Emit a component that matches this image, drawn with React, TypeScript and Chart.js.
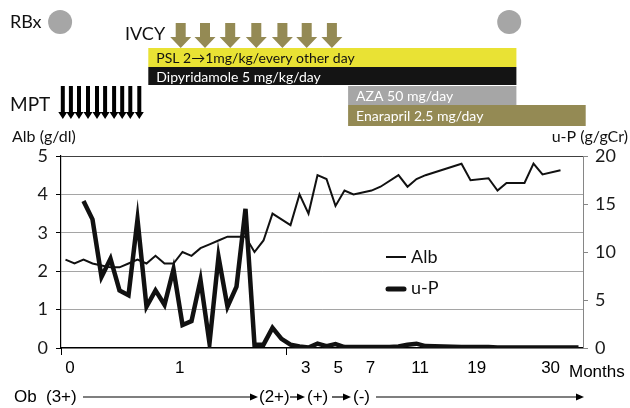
import React, { useEffect, useRef } from 'react';
import { Chart, registerables } from 'chart.js';

Chart.register(...registerables);

// ---- data (x positions are category slots along the time axis) ----
const albX = [0, 1, 2, 3, 4, 5, 6, 7, 8, 9, 10, 11, 12, 13, 14, 15, 16, 17, 18, 19, 20, 21, 22, 23, 24, 25, 26, 27, 28, 29, 30, 31, 32, 33, 34, 35, 37, 38, 39, 40, 44, 45, 47, 48, 49, 51, 52, 53, 55];
const albValues = [2.3, 2.2, 2.3, 2.2, 2.15, 2.1, 2.1, 2.2, 2.3, 2.2, 2.4, 2.2, 2.2, 2.5, 2.4, 2.6, 2.7, 2.8, 2.9, 2.9, 2.9, 2.5, 2.8, 3.5, 3.35, 3.2, 4.0, 3.5, 4.5, 4.4, 3.7, 4.1, 4.0, 4.05, 4.1, 4.2, 4.5, 4.2, 4.4, 4.5, 4.8, 4.37, 4.42, 4.1, 4.3, 4.3, 4.8, 4.52, 4.63];
const upX = [2, 3, 4, 5, 6, 7, 8, 9, 10, 11, 12, 13, 14, 15, 16, 17, 18, 19, 20, 21, 22, 23, 24, 25, 26, 27, 28, 29, 30, 31, 32, 33, 34, 35, 36, 37, 38, 39, 40, 44, 45, 47, 48, 49, 51, 52, 53, 55, 57];
const upValues = [15.3, 13.4, 7.4, 9.3, 6.0, 5.5, 13.4, 4.3, 6.0, 4.5, 8.2, 2.4, 2.8, 7.1, 0.5, 9.5, 4.3, 6.4, 14.5, 0.35, 0.35, 2.1, 0.95, 0.35, 0.15, 0.05, 0.45, 0.2, 0.4, 0.1, 0.1, 0.1, 0.1, 0.1, 0.1, 0.15, 0.35, 0.45, 0.2, 0.1, 0.1, 0.1, 0.05, 0.05, 0.05, 0.05, 0.05, 0.05, 0.05];

const xTickPositions = [0.5, 12.7, 26.7, 30.3, 33.9, 39.4, 45.7, 53.9];
const xTickLabels = ['0', '1', '3', '5', '7', '11', '19', '30'];

const treatmentNames = ['PSL 2\u21921mg/kg/every other day', 'Dipyridamole 5 mg/kg/day', 'AZA 50 mg/day', 'Enarapril 2.5 mg/day'];
const treatmentStart = [9.2, 9.2, 31.4, 31.4];
const treatmentEnd = [50.1, 50.1, 50.1, 57.8];
const treatmentColors = ['#E9E234', '#141414', '#A6A6A6', '#948A54'];
const treatmentTextColors = ['#111111', '#FFFFFF', '#FFFFFF', '#FFFFFF'];

const ivcyDoses = [12.8, 15.5, 18.3, 21.2, 24.1, 26.8, 29.6];
const mptPulses = [-0.3, 0.6, 1.5, 2.5, 3.5, 4.4, 5.4, 6.3, 7.2, 8.2];
const biopsies = [-0.6, 49.3];

const obStages = ['(3+)', '(2+)', '(+)', '(-)'];

const LATO = 'Lato, "Noto Sans", sans-serif';
const NARROW = '"Liberation Sans Narrow", "Liberation Sans", Arial, sans-serif';

function downArrow(ctx: CanvasRenderingContext2D, cx: number, top: number, headTop: number, tip: number, shaftW: number, headW: number, color: string) {
  ctx.fillStyle = color;
  ctx.beginPath();
  ctx.moveTo(cx - shaftW / 2, top);
  ctx.lineTo(cx + shaftW / 2, top);
  ctx.lineTo(cx + shaftW / 2, headTop);
  ctx.lineTo(cx + headW / 2, headTop);
  ctx.lineTo(cx, tip);
  ctx.lineTo(cx - headW / 2, headTop);
  ctx.lineTo(cx - shaftW / 2, headTop);
  ctx.closePath();
  ctx.fill();
}

function rightArrow(ctx: CanvasRenderingContext2D, x1: number, x2: number, y: number) {
  ctx.strokeStyle = '#000';
  ctx.lineWidth = 1.2;
  ctx.beginPath();
  ctx.moveTo(x1, y);
  ctx.lineTo(x2 - 4, y);
  ctx.stroke();
  ctx.fillStyle = '#000';
  ctx.beginPath();
  ctx.moveTo(x2, y);
  ctx.lineTo(x2 - 8, y - 3.5);
  ctx.lineTo(x2 - 8, y + 3.5);
  ctx.closePath();
  ctx.fill();
}

const annotationPlugin = {
  id: 'clinicalAnnotations',
  afterDraw(chart: any) {
    const ctx: CanvasRenderingContext2D = chart.ctx;
    const xs = chart.scales.x;
    const px = (v: number) => xs.getPixelForValue(v);
    const area = chart.chartArea;
    ctx.save();

    // biopsy circles
    ctx.fillStyle = '#A6A6A6';
    biopsies.forEach((v) => {
      ctx.beginPath();
      ctx.arc(px(v), 22, 12, 0, Math.PI * 2);
      ctx.fill();
    });

    ctx.fillStyle = '#111';
    ctx.textBaseline = 'middle';
    ctx.textAlign = 'left';
    ctx.font = `18px ${LATO}`;
    ctx.fillText('RBx', 10, 22);
    ctx.fillText('IVCY', 125, 34);
    ctx.font = `19px ${LATO}`;
    ctx.fillText('MPT', 10, 105);

    // IVCY arrows
    ivcyDoses.forEach((v) => downArrow(ctx, px(v), 23, 37, 48, 10, 21, '#948A54'));

    // treatment bars
    const rowTop = [48, 67, 86, 105];
    const rowH = [19, 18, 19, 21];
    treatmentNames.forEach((name, i) => {
      const x1 = px(treatmentStart[i]);
      const x2 = px(treatmentEnd[i]);
      ctx.fillStyle = treatmentColors[i];
      ctx.fillRect(x1, rowTop[i], x2 - x1, rowH[i]);
      ctx.fillStyle = treatmentTextColors[i];
      ctx.font = `14px ${LATO}`;
      ctx.fillText(name, x1 + 8, rowTop[i] + rowH[i] / 2 + 1);
    });

    // MPT pulses
    mptPulses.forEach((v) => downArrow(ctx, px(v), 86, 112, 119, 4, 9, '#000'));

    // axis titles
    ctx.fillStyle = '#111';
    ctx.font = `16px ${LATO}`;
    ctx.textAlign = 'left';
    ctx.fillText('Alb (g/dl)', 12, 137);
    ctx.textAlign = 'right';
    ctx.fillText('u-P (g/gCr)', 628, 137);

    // legend
    ctx.textAlign = 'left';
    ctx.strokeStyle = '#111';
    ctx.lineCap = 'butt';
    ctx.lineWidth = 2;
    ctx.beginPath();
    ctx.moveTo(386, 257);
    ctx.lineTo(406, 257);
    ctx.stroke();
    ctx.lineWidth = 5;
    ctx.lineCap = 'round';
    ctx.beginPath();
    ctx.moveTo(388, 289);
    ctx.lineTo(404, 289);
    ctx.stroke();
    ctx.lineCap = 'butt';
    ctx.font = `18px ${LATO}`;
    ctx.fillStyle = '#111';
    ctx.fillText('Alb', 411, 257);
    ctx.fillText('u-P', 411, 288);

    // x-axis tick marks
    ctx.strokeStyle = '#000';
    ctx.lineWidth = 1;
    [-0.5, 24.5].forEach((v) => {
      const x = Math.round(px(v)) + 0.5;
      ctx.beginPath();
      ctx.moveTo(x, area.bottom);
      ctx.lineTo(x, area.bottom + 7);
      ctx.stroke();
    });

    // Months label
    ctx.font = `17px ${NARROW}`;
    ctx.fillStyle = '#000';
    ctx.fillText('Months', 569, 372);

    // Ob row
    const obY = 397;
    ctx.fillText('Ob', 14, obY);
    ctx.fillText(obStages[0], 46, obY);
    rightArrow(ctx, 83, 258, obY);
    ctx.fillText(obStages[1], 259, obY);
    rightArrow(ctx, 290, 305, obY);
    ctx.fillText(obStages[2], 307, obY);
    rightArrow(ctx, 332, 351, obY);
    ctx.fillText(obStages[3], 353, obY);
    rightArrow(ctx, 376, 584, obY);

    ctx.restore();
  },
};

export default function App() {
  const ref = useRef<HTMLCanvasElement>(null);
  useEffect(() => {
    const canvas = ref.current!;
    const chart = new Chart(canvas, {
      type: 'line',
      data: {
        datasets: [
          {
            label: 'Alb',
            data: albX.map((x, i) => ({ x, y: albValues[i] })),
            borderColor: '#111111',
            borderWidth: 2,
            pointRadius: 0,
            tension: 0,
            yAxisID: 'y',
          },
          {
            label: 'u-P',
            data: upX.map((x, i) => ({ x, y: upValues[i] })),
            borderColor: '#111111',
            borderWidth: 4.5,
            pointRadius: 0,
            tension: 0,
            yAxisID: 'y1',
          },
        ],
      },
      options: {
        responsive: false,
        animation: false,
        devicePixelRatio: 1,
        layout: { padding: { top: 156, left: 0, right: 0, bottom: 0 } },
        plugins: { legend: { display: false }, tooltip: { enabled: false } },
        scales: {
          x: {
            type: 'linear',
            min: -0.5,
            max: 57.5,
            afterFit: (s: any) => { s.height = 60; },
            afterBuildTicks: (s: any) => { s.ticks = xTickPositions.map((v) => ({ value: v })); },
            grid: { display: false, drawTicks: false },
            border: { display: true, color: '#000', width: 1.2 },
            ticks: {
              autoSkip: false,
              maxRotation: 0,
              padding: 10,
              color: '#000',
              font: { family: NARROW, size: 17 },
              callback: (_v: any, i: number) => xTickLabels[i],
            },
          },
          y: {
            position: 'left',
            min: 0,
            max: 5,
            afterFit: (s: any) => { s.width = 61; },
            ticks: { stepSize: 1, padding: 8, color: '#1a1a1a', font: { family: LATO, size: 18 } },
            grid: {
              color: (c: any) => (c.tick && c.tick.value === 5 ? '#404040' : '#A5A5A5'),
              lineWidth: 1,
              tickLength: 5,
              tickColor: '#000',
            },
            border: { display: true, color: '#000', width: 1.2 },
          },
          y1: {
            position: 'right',
            min: 0,
            max: 20,
            afterFit: (s: any) => { s.width = 47; },
            ticks: { stepSize: 5, padding: 7, color: '#1a1a1a', font: { family: LATO, size: 18 } },
            grid: { drawOnChartArea: false, tickLength: 5, tickColor: '#868686', color: '#868686' },
            border: { display: true, color: '#868686', width: 1 },
          },
        },
      },
      plugins: [annotationPlugin],
    } as any);
    return () => chart.destroy();
  }, []);
  return (
    <div style={{ position: 'absolute', left: 0, top: 0, width: 630, height: 408, background: '#fff' }}>
      <canvas ref={ref} width={630} height={408} style={{ display: 'block', width: 630, height: 408 }} />
    </div>
  );
}
